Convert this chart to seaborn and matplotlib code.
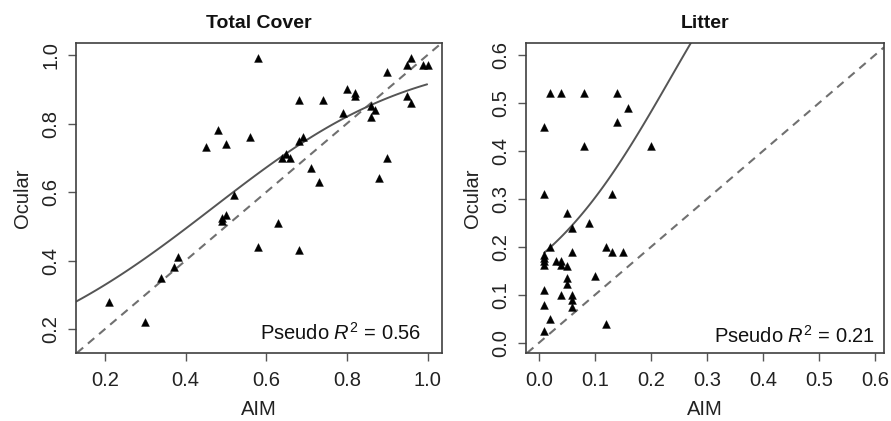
import matplotlib
matplotlib.use("Agg")
import matplotlib.pyplot as plt
import seaborn as sns
import pandas as pd
import numpy as np

# ---- data ----
tc_aim = [0.21, 0.30, 0.34, 0.37, 0.38, 0.45, 0.48, 0.50, 0.49, 0.49, 0.50, 0.52,
          0.56, 0.58, 0.58, 0.63, 0.64, 0.65, 0.66, 0.68, 0.68, 0.68, 0.69, 0.71,
          0.73, 0.74, 0.79, 0.80, 0.82, 0.82, 0.86, 0.87, 0.86, 0.88, 0.90, 0.90,
          0.95, 0.96, 0.95, 0.96, 0.99, 1.00]
tc_ocular = [0.28, 0.22, 0.35, 0.38, 0.41, 0.73, 0.78, 0.74, 0.515, 0.523, 0.533, 0.59,
             0.76, 0.99, 0.44, 0.51, 0.70, 0.71, 0.70, 0.87, 0.43, 0.75, 0.76, 0.67,
             0.63, 0.87, 0.83, 0.90, 0.89, 0.88, 0.85, 0.84, 0.82, 0.64, 0.70, 0.95,
             0.88, 0.86, 0.97, 0.99, 0.97, 0.97]
# points read along the fitted (solid) curve
tc_fit_x = [0.128, 0.291, 0.457, 0.568, 0.651, 0.734, 0.858, 0.999]
tc_fit_y = [0.287, 0.387, 0.536, 0.652, 0.718, 0.781, 0.850, 0.914]

lit_aim = [0.02, 0.04, 0.08, 0.14, 0.16, 0.14, 0.01, 0.08, 0.20, 0.01, 0.13, 0.05,
           0.09, 0.06, 0.02, 0.06, 0.12, 0.13, 0.15, 0.01, 0.01, 0.01, 0.01, 0.03,
           0.04, 0.04, 0.05, 0.10, 0.05, 0.05, 0.01, 0.04, 0.06, 0.06, 0.01, 0.06,
           0.02, 0.12, 0.01]
lit_ocular = [0.52, 0.52, 0.52, 0.52, 0.49, 0.46, 0.45, 0.41, 0.41, 0.31, 0.31, 0.27,
              0.25, 0.24, 0.20, 0.19, 0.20, 0.19, 0.19, 0.183, 0.177, 0.170, 0.162, 0.17,
              0.17, 0.163, 0.16, 0.14, 0.135, 0.122, 0.11, 0.10, 0.10, 0.09, 0.08, 0.075,
              0.05, 0.04, 0.025]
lit_fit_x = [0.0095, 0.058, 0.094, 0.130, 0.168, 0.207, 0.270, 0.285]
lit_fit_y = [0.184, 0.241, 0.306, 0.362, 0.414, 0.473, 0.623, 0.660]

titles = ["Total Cover", "Litter"]
r2_labels = ["Pseudo $R^2$ = 0.56", "Pseudo $R^2$ = 0.21"]
tc_ticks = [0.2, 0.4, 0.6, 0.8, 1.0]
lit_ticks = [0.0, 0.1, 0.2, 0.3, 0.4, 0.5, 0.6]


def smooth_logit(xs, ys, n=120):
    """Smooth curve through the read curve points (quadratic fit in logit space)."""
    x = np.asarray(xs, float)
    y = np.asarray(ys, float)
    coef = np.polyfit(x, np.log(y / (1 - y)), 2)
    gx = np.linspace(x.min(), x.max(), n)
    gy = 1 / (1 + np.exp(-np.polyval(coef, gx)))
    return pd.DataFrame({"AIM": gx, "Ocular": gy})


sns.set_theme(style="white")
plt.rcParams["font.family"] = ["Liberation Sans", "DejaVu Sans"]
plt.rcParams["mathtext.fontset"] = "custom"
plt.rcParams["mathtext.rm"] = "Liberation Sans"
plt.rcParams["mathtext.it"] = "Liberation Sans:italic"

fig = plt.figure(figsize=(8.91, 4.21), dpi=100)
ax1 = fig.add_axes([0.0853, 0.1615, 0.4108, 0.7363])
ax2 = fig.add_axes([0.5903, 0.1615, 0.4018, 0.7363])

panels = [
    (ax1, tc_aim, tc_ocular, tc_fit_x, tc_fit_y, tc_ticks, (0.128, 1.036), (0.13, 1.035), 0.943, 0.042),
    (ax2, lit_aim, lit_ocular, lit_fit_x, lit_fit_y, lit_ticks, (-0.023, 0.616), (-0.021, 0.625), 0.975, 0.034),
]

for i, (ax, xs, ys, fx, fy, ticks, xl, yl, tx, ty) in enumerate(panels):
    pts = pd.DataFrame({"AIM": xs, "Ocular": ys})
    fit = smooth_logit(fx, fy)
    ax.set_xlim(*xl)
    ax.set_ylim(*yl)
    ax.axline((0, 0), slope=1, color="#707070", lw=1.5, ls=(0, (4, 3)), zorder=1)
    sns.lineplot(data=fit, x="AIM", y="Ocular", ax=ax, color="#555555", lw=1.4,
                 sort=False, estimator=None, zorder=2)
    sns.scatterplot(data=pts, x="AIM", y="Ocular", ax=ax, marker="^", s=32,
                    color="black", edgecolor="black", linewidth=0.3, zorder=3)
    ax.set_xlim(*xl)
    ax.set_ylim(*yl)
    ax.set_xticks(ticks)
    ax.set_yticks(ticks)
    ax.set_xticklabels([f"{t:.1f}" for t in ticks])
    ax.set_yticklabels([f"{t:.1f}" for t in ticks], rotation=90, va="center")
    ax.tick_params(axis="both", direction="out", length=6, width=1.0,
                   color="#555555", labelsize=14.5, pad=5, labelcolor="#222222",
                   bottom=True, left=True)
    ax.tick_params(axis="x", pad=7)
    for sp in ax.spines.values():
        sp.set_color("#404040")
        sp.set_linewidth(1.2)
    ax.set_xlabel("AIM", fontsize=14.5, color="#222222", labelpad=7)
    ax.set_ylabel("Ocular", fontsize=14.5, color="#222222", labelpad=7)
    ax.set_title(titles[i], fontsize=14, fontweight="bold", color="#111111", pad=11)
    ax.text(tx, ty, r2_labels[i], transform=ax.transAxes, ha="right", va="baseline",
            fontsize=14.5, color="#111111")

fig.savefig("out.png", dpi=100)
